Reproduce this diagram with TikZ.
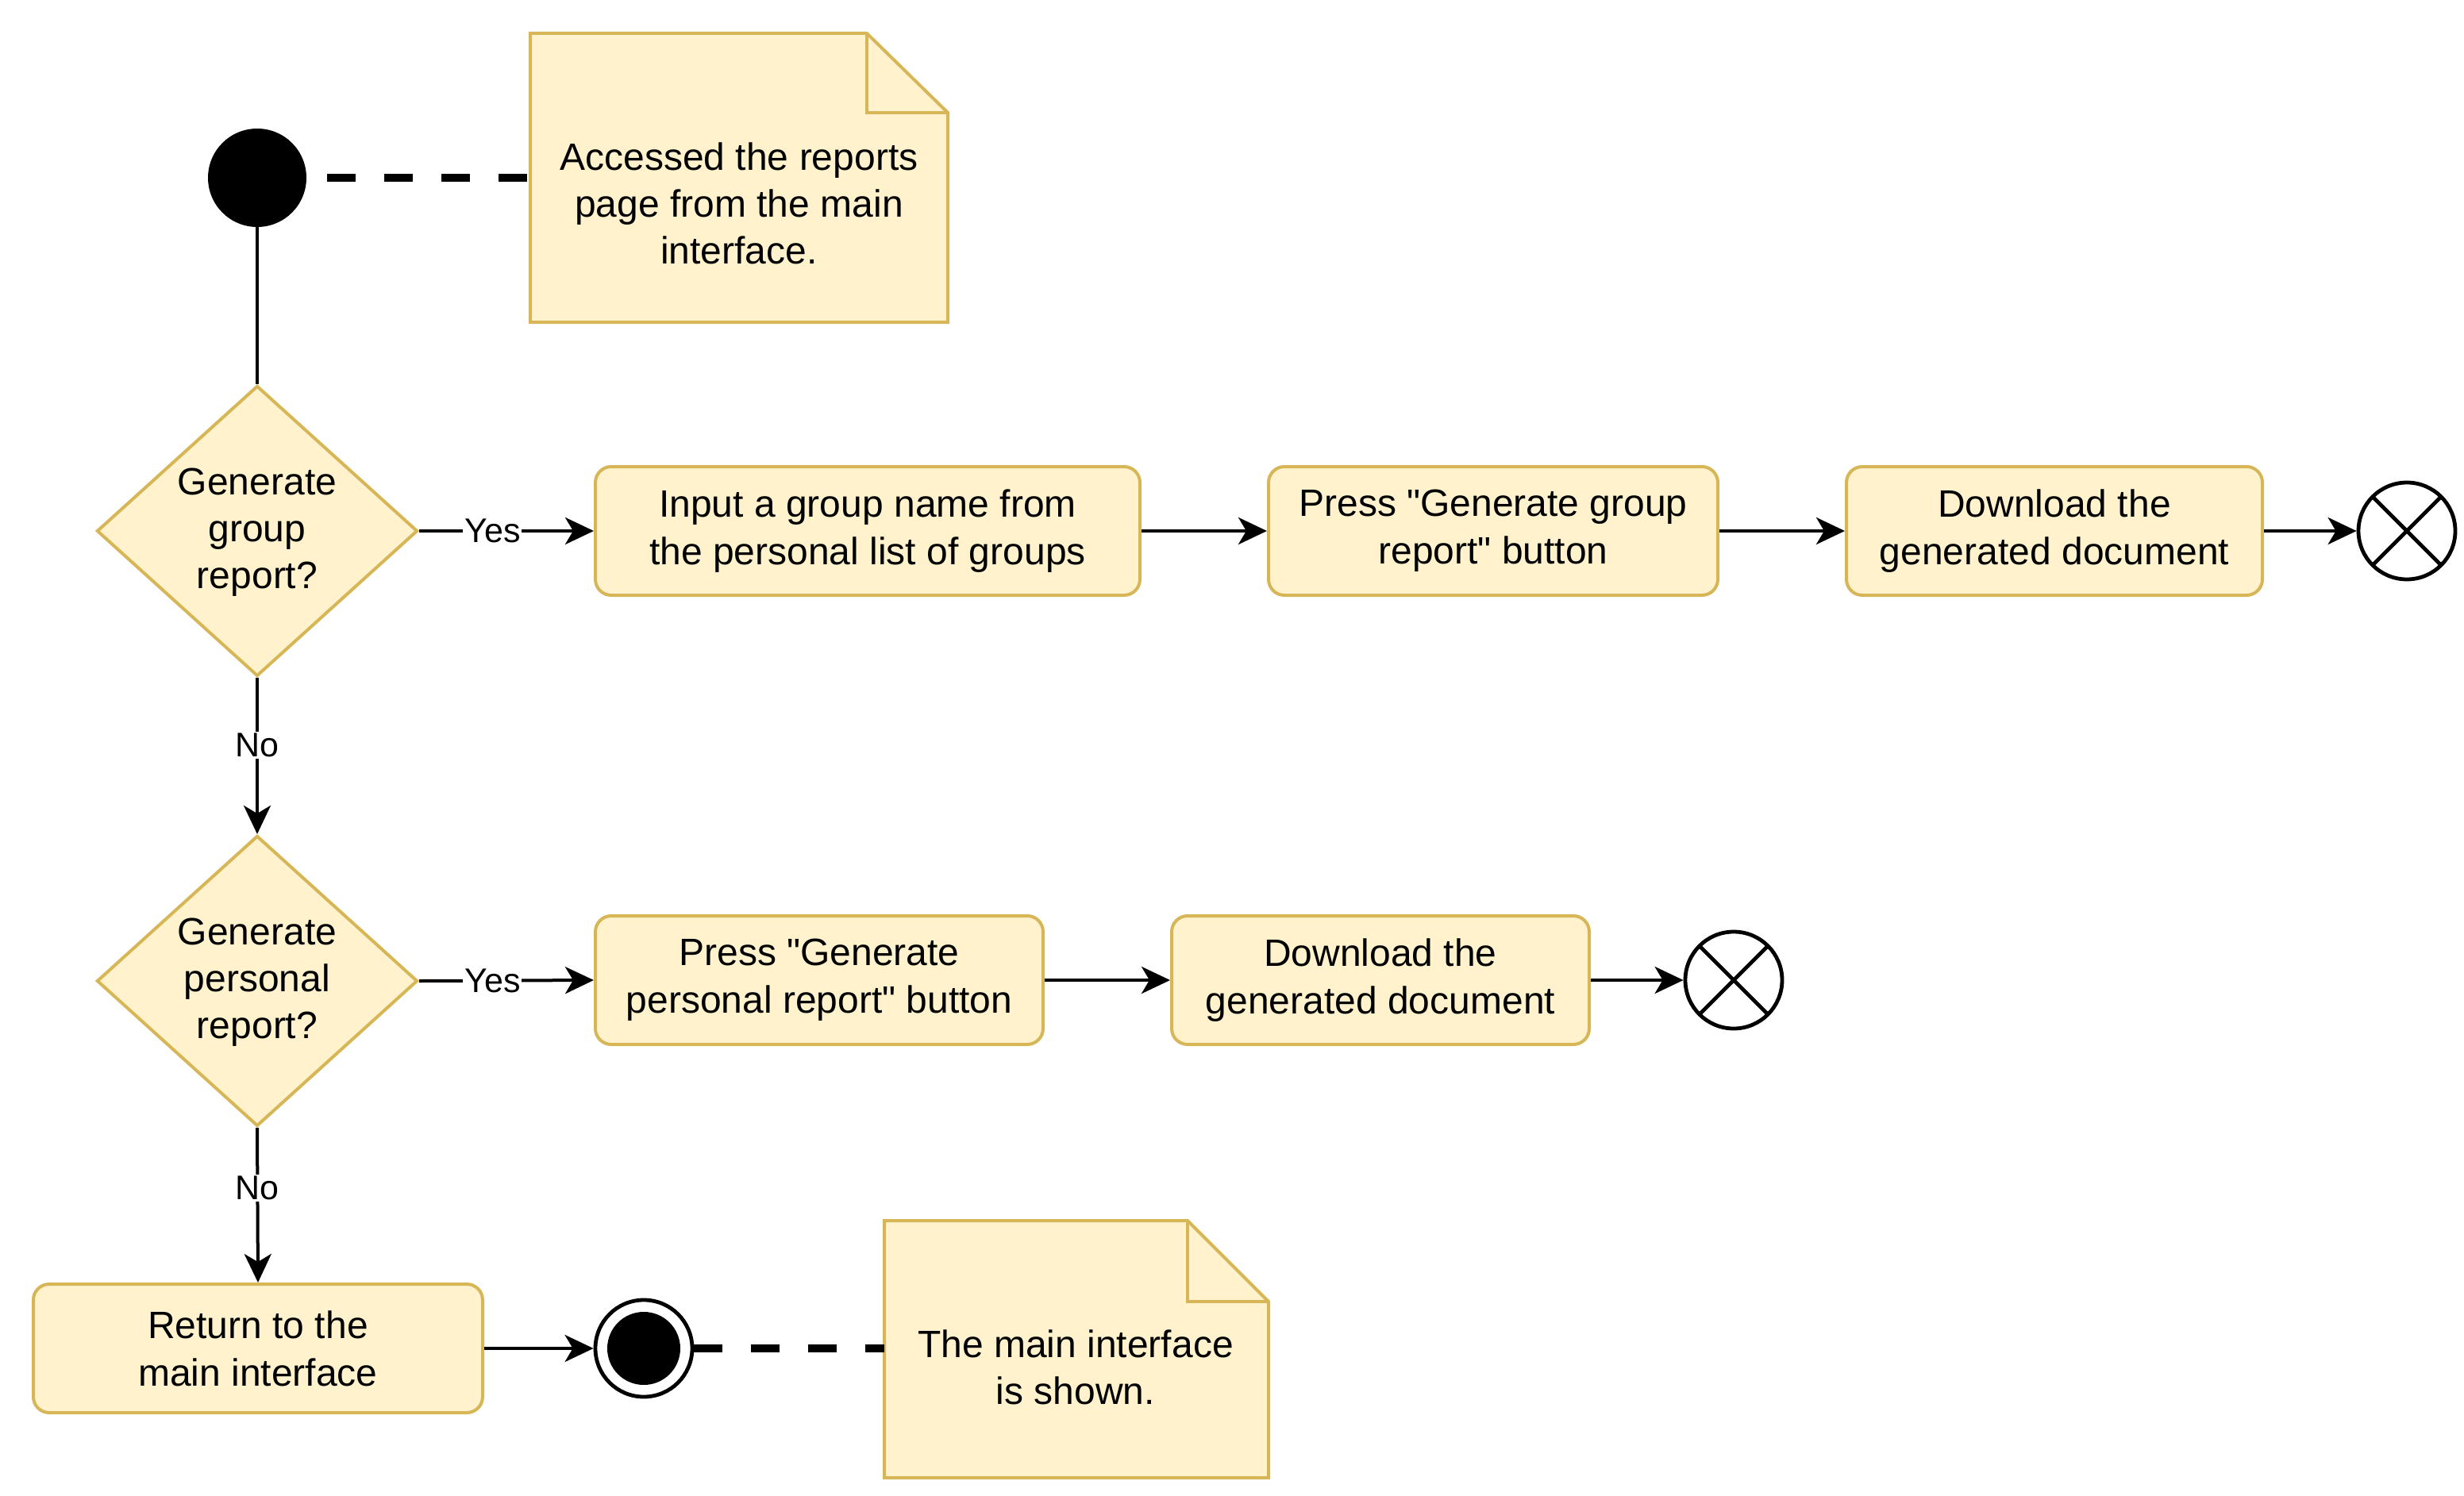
\documentclass[tikz,border=0pt]{standalone}
\usepackage{fontspec}
\setmainfont{Liberation Sans}
\usetikzlibrary{arrows.meta,shapes.geometric}
\definecolor{nfill}{HTML}{FFF2CC}
\definecolor{nline}{HTML}{D6B656}
\begin{document}
\begin{tikzpicture}[x=1pt,y=-1pt,
  txt/.style={align=center,font=\fontsize{24}{29.5}\selectfont,inner sep=0pt},
  act/.style={draw=nline,fill=nfill,line width=2pt,rounded corners=10pt,align=center,
    font=\fontsize{24}{30}\selectfont,minimum height=81pt,inner sep=0pt},
  dec/.style={diamond,draw=nline,fill=nfill,line width=2pt,minimum width=202pt,
    minimum height=183pt,inner sep=0pt},
  notebox/.style={draw=nline,fill=nfill,line width=2pt,line join=miter},
  startnode/.style={circle,fill=black,minimum size=62pt,inner sep=0pt},
  flowend/.style={circle,draw=black,fill=white,line width=2.4pt,minimum size=61pt,inner sep=0pt,
    path picture={\draw[line width=2.4pt] (path picture bounding box.north west) -- (path picture bounding box.south east)
      (path picture bounding box.north east) -- (path picture bounding box.south west);}},
  finalnode/.style={circle,draw=black,fill=white,line width=2.4pt,minimum size=61pt,inner sep=0pt,
    path picture={\fill[black] (path picture bounding box.center) circle (23pt);}},
  conn/.style={line width=2pt,draw=black},
  arr/.style={conn,-{Stealth[length=18pt,width=17pt,inset=5pt]}},
  lbl/.style={fill=white,inner sep=1pt,font=\fontsize{21.5}{25}\selectfont},
  notelink/.style={line width=5.4pt,dash pattern=on 18pt off 18pt}
]
\useasboundingbox (0,0) rectangle (1552,942);

% start and first note
\node[startnode] (s) at (162,112) {};
\draw[notebox] (334,21) -- (546,21) -- (597,71) -- (597,203) -- (334,203) -- cycle;
\draw[notebox,fill=none] (546,21) -- (546,71) -- (597,71);
\coordinate (n1) at (334,112);
\node[txt] (n1t) at (465.5,128) {Accessed the reports\\page from the main\\interface.};
\draw[notelink,shorten <=13pt] (s) -- (n1);

% decisions
\node[dec] (d1) at (162,334.5) {};
\node[txt] (d1t) at (162,335.5) {Generate\\group\\report?};
\node[dec] (d2) at (162,618) {};
\node[txt] (d2t) at (162,619) {Generate\\personal\\report?};

% activities
\node[act,minimum width=343pt] (a1) at (546.5,334.5) {Input a group name from\\the personal list of groups};
\node[act,minimum width=283pt] (a2) at (940.5,334.5) {Press \textquotedbl Generate group\\report\textquotedbl{} button};
\node[act,minimum width=262pt] (a3) at (1294,334.5) {Download the\\generated document};
\node[flowend] (e1) at (1516,334.5) {};

\node[act,minimum width=282pt] (a4) at (516,617.5) {Press \textquotedbl Generate\\personal report\textquotedbl{} button};
\node[act,minimum width=263pt] (a5) at (869.5,617.5) {Download the\\generated document};
\node[flowend] (e2) at (1092,617.5) {};

\node[act,minimum width=283pt] (a6) at (162.5,849.5) {Return to the\\main interface};
\node[finalnode] (f) at (405.5,849.5) {};

% second note
\draw[notebox] (557,769) -- (748,769) -- (799,820) -- (799,931) -- (557,931) -- cycle;
\draw[notebox,fill=none] (748,769) -- (748,820) -- (799,820);
\coordinate (n2) at (557,849.5);
\node[txt] (n2t) at (677.5,861.5) {The main interface\\is shown.};
\draw[notelink] (f) -- (n2);

% connectors
\draw[conn] (s) -- (d1.north);
\draw[arr] (d1.east) -- node[lbl,pos=0.42] {Yes} (a1.west);
\draw[arr] (a1) -- (a2);
\draw[arr] (a2) -- (a3);
\draw[arr] (a3) -- (e1);
\draw[arr] (d1.south) -- node[lbl,pos=0.43] {No} (d2.north);
\draw[arr] (d2.east) -- node[lbl,pos=0.42] {Yes} (a4.west);
\draw[arr] (a4) -- (a5);
\draw[arr] (a5) -- (e2);
\draw[arr] (d2.south) -- node[lbl,pos=0.39] {No} (a6.north);
\draw[arr] (a6) -- (f);
\end{tikzpicture}
\end{document}
